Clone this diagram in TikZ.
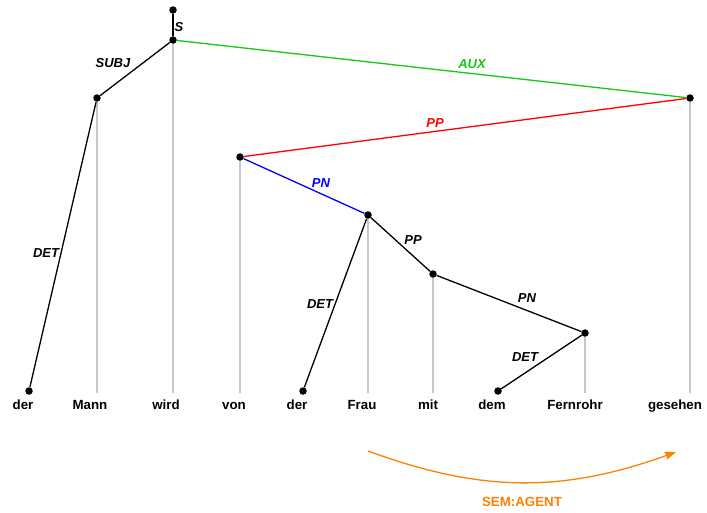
\documentclass[tikz,border=0pt]{standalone}
\usepackage{fontspec}
\setmainfont{Liberation Sans}
\usetikzlibrary{arrows.meta}
\definecolor{auxgreen}{RGB}{20,200,20}
\definecolor{semorange}{RGB}{255,128,0}
\tikzset{
  dot/.style={circle,fill=black,inner sep=0pt,minimum size=7.5pt},
  word/.style={font=\fontsize{13.3}{15}\selectfont\bfseries,inner sep=1pt,anchor=base},
  lab/.style={font=\fontsize{13}{15}\selectfont\bfseries\itshape,inner sep=1pt},
  edge/.style={line width=1.3pt},
  proj/.style={line width=1.6pt,black!22}
}

\begin{document}
\begin{tikzpicture}[x=1pt,y=-1pt]
  \useasboundingbox (0,0) rectangle (707,512);
  % words
  \node[word] (w1) at (23,409) {der};
  \node[word] (w2) at (90,409) {Mann};
  \node[word] (w3) at (166,409) {wird};
  \node[word] (w4) at (234,409) {von};
  \node[word] (w5) at (297,409) {der};
  \node[word] (w6) at (362,409) {Frau};
  \node[word] (w7) at (428,409) {mit};
  \node[word] (w8) at (492,409) {dem};
  \node[word] (w9) at (575,409) {Fernrohr};
  \node[word] (w10) at (675,409) {gesehen};
  % tree nodes
  \node[dot] (top) at (173,10) {};
  \node[dot] (s) at (173,40) {};
  \node[dot] (mann) at (97,98) {};
  \node[dot] (der) at (29,391) {};
  \node[dot] (ges) at (690,98) {};
  \node[dot] (von) at (240,157) {};
  \node[dot] (frau) at (368,215) {};
  \node[dot] (der2) at (303,391) {};
  \node[dot] (mit) at (433,274) {};
  \node[dot] (fern) at (585,333) {};
  \node[dot] (dem) at (498,391) {};
  % projections
  \draw[proj] (s) -- (173,393);
  \draw[proj] (mann) -- (97,393);
  \draw[proj] (von) -- (240,393);
  \draw[proj] (frau) -- (368,393);
  \draw[proj] (mit) -- (433,393);
  \draw[proj] (fern) -- (585,393);
  \draw[proj] (ges) -- (690,393);
  % dependencies
  \draw[edge] (top) -- (s);
  \draw[edge] (s) -- (mann);
  \draw[edge] (mann) -- (der);
  \draw[edge,auxgreen] (s) -- (ges);
  \draw[edge,red] (ges) -- (von);
  \draw[edge,blue] (von) -- (frau);
  \draw[edge] (frau) -- (der2);
  \draw[edge] (frau) -- (mit);
  \draw[edge] (mit) -- (fern);
  \draw[edge] (fern) -- (dem);
  % labels
  \node[lab] (l1) at (179,27) {S};
  \node[lab] (l2) at (113,63) {SUBJ};
  \node[lab] (l3) at (46,253) {DET};
  \node[lab,auxgreen] (l4) at (472,64) {AUX};
  \node[lab,red] (l5) at (435,123) {PP};
  \node[lab,blue] (l6) at (321,183) {PN};
  \node[lab] (l7) at (320,304) {DET};
  \node[lab] (l8) at (413,240) {PP};
  \node[lab] (l9) at (527,298) {PN};
  \node[lab] (l10) at (525,357) {DET};
  % semantic relation
  \coordinate (a1) at (368,451);
  \coordinate (a2) at (676,452);
  \draw[semorange,line width=1.3pt,-{Stealth[length=11pt,width=8pt,inset=1pt]}] (a1) to[bend right=20] (a2);
  \node[word,text=semorange] (sem) at (522,506) {SEM:AGENT};
\end{tikzpicture}
\end{document}
